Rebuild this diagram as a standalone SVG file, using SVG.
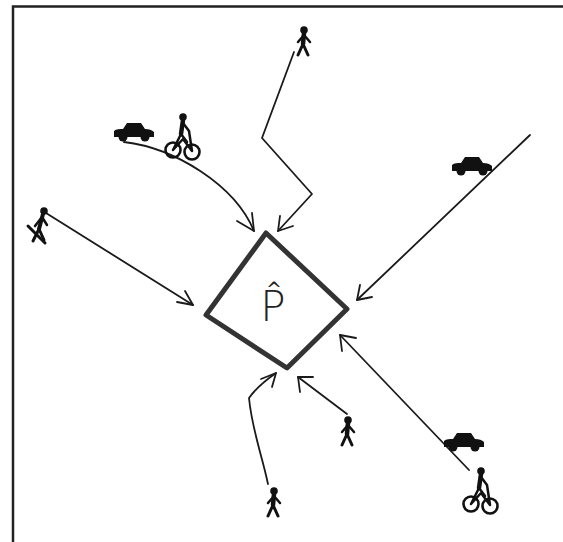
<svg xmlns="http://www.w3.org/2000/svg" width="563" height="542" viewBox="0 0 563 542">
  <style>
    .frame { fill: none; stroke: #222; stroke-width: 2.5; }
    .flow { fill: none; stroke: #1a1a1a; stroke-width: 1.8; stroke-linecap: round; stroke-linejoin: round; }
    .lot { fill: none; stroke: #333; stroke-width: 5; stroke-linejoin: round; }
    .ink { fill: #111; }
    .limb { fill: none; stroke: #111; stroke-linecap: round; stroke-linejoin: round; }
    .wheel { fill: none; stroke: #111; stroke-width: 2.6; }
    .label { font-family: "DejaVu Sans", "Liberation Sans", sans-serif; font-size: 42px; font-weight: 300; fill: #222; }
  </style>
  <defs>
    <!-- car silhouette, origin at the left end of the sill -->
    <symbol id="car" overflow="visible">
      <path class="ink" d="M0,8 C2,6 6,6 9,6 L13,0 L27,0 L31,6 C35,6 38,7 40,9 L40,14 L0,14 Z"/>
      <circle class="ink" cx="9" cy="14" r="4.5"/>
      <circle class="ink" cx="31" cy="14" r="4.5"/>
    </symbol>
    <!-- walking figure, origin at the head -->
    <symbol id="walker" overflow="visible">
      <circle class="ink" cx="0" cy="0" r="3.8"/>
      <path class="limb" stroke-width="4.5" d="M0,3 L-1,14"/>
      <path class="limb" stroke-width="3" d="M-1,14 L-6,25 M-1,14 L4,25"/>
      <path class="limb" stroke-width="2.5" d="M0,5 L-6,12 M0,5 L6,12"/>
    </symbol>
    <!-- cyclist, origin at the head -->
    <symbol id="cyclist" overflow="visible">
      <circle class="ink" cx="0" cy="0" r="3.8"/>
      <path class="limb" stroke-width="4.5" d="M0,3 L-2,17"/>
      <path class="limb" stroke-width="2.5" d="M0,6 L6,14 L9,34 M-2,17 L4,25 M-10,33 L0,22 L9,34 M-2,17 L-10,33"/>
      <circle class="wheel" cx="-10" cy="33" r="7.5"/>
      <circle class="wheel" cx="9" cy="35" r="7.5"/>
    </symbol>
  </defs>

  <rect width="563" height="542" fill="#fff"/>

  <!-- sheet border (top and left edges only) -->
  <path class="frame" d="M13,542 L13,6.5 L563,6.5"/>

  <!-- parking lot -->
  <g id="parking">
    <path class="lot" d="M266,233 L347,309 L287,368 L206,315 Z"/>
    <text class="label" x="273" y="321" text-anchor="middle">P̂</text>
  </g>

  <!-- arrivals -->
  <g id="connectors">
    <path class="flow" d="M294,52 L262,138 L312,194 L278,231"/>
    <path class="flow" d="M280,216 L278,231 L293,226"/>

    <path class="flow" d="M124,142 C175,148 235,185 254,231"/>
    <path class="flow" d="M237,221 L254,231 L252,213"/>

    <path class="flow" d="M46,213 L193,305"/>
    <path class="flow" d="M177,302 L193,305 L185,291"/>

    <path class="flow" d="M530,135 L357,300"/>
    <path class="flow" d="M360,285 L357,300 L372,297"/>

    <path class="flow" d="M469,470 L340,335"/>
    <path class="flow" d="M342,351 L340,335 L356,338"/>

    <path class="flow" d="M347,414 L298,377"/>
    <path class="flow" d="M300,392 L298,377 L313,377"/>

    <path class="flow" d="M268,484 C262,455 252,430 249,398 C256,388 266,380 276,373"/>
    <path class="flow" d="M261,379 L276,373 L272,387"/>
  </g>

  <!-- travellers -->
  <g id="car-nw"><use href="#car" x="114" y="123"/></g>
  <g id="cyclist-nw"><use href="#cyclist" x="183" y="117"/></g>
  <g id="walker-n"><use href="#walker" x="304" y="30"/></g>
  <g id="walker-w">
    <circle class="ink" cx="44" cy="211" r="3.8"/>
    <path class="limb" stroke-width="4" d="M43,214 L39,229"/>
    <path class="limb" stroke-width="3" d="M39,229 L33,241 M39,229 L44,240"/>
    <path class="limb" stroke-width="2.5" d="M42,217 L35,226 M42,217 L47,225"/>
    <path class="limb" stroke-width="3" stroke="#333" d="M28,226 L45,243"/>
  </g>
  <g id="car-ne"><use href="#car" x="452" y="157"/></g>
  <g id="car-se"><use href="#car" x="444" y="433"/></g>
  <g id="cyclist-se"><use href="#cyclist" x="481" y="471"/></g>
  <g id="walker-s"><use href="#walker" x="348" y="420"/></g>
  <g id="walker-ss"><use href="#walker" x="274" y="491"/></g>
</svg>
